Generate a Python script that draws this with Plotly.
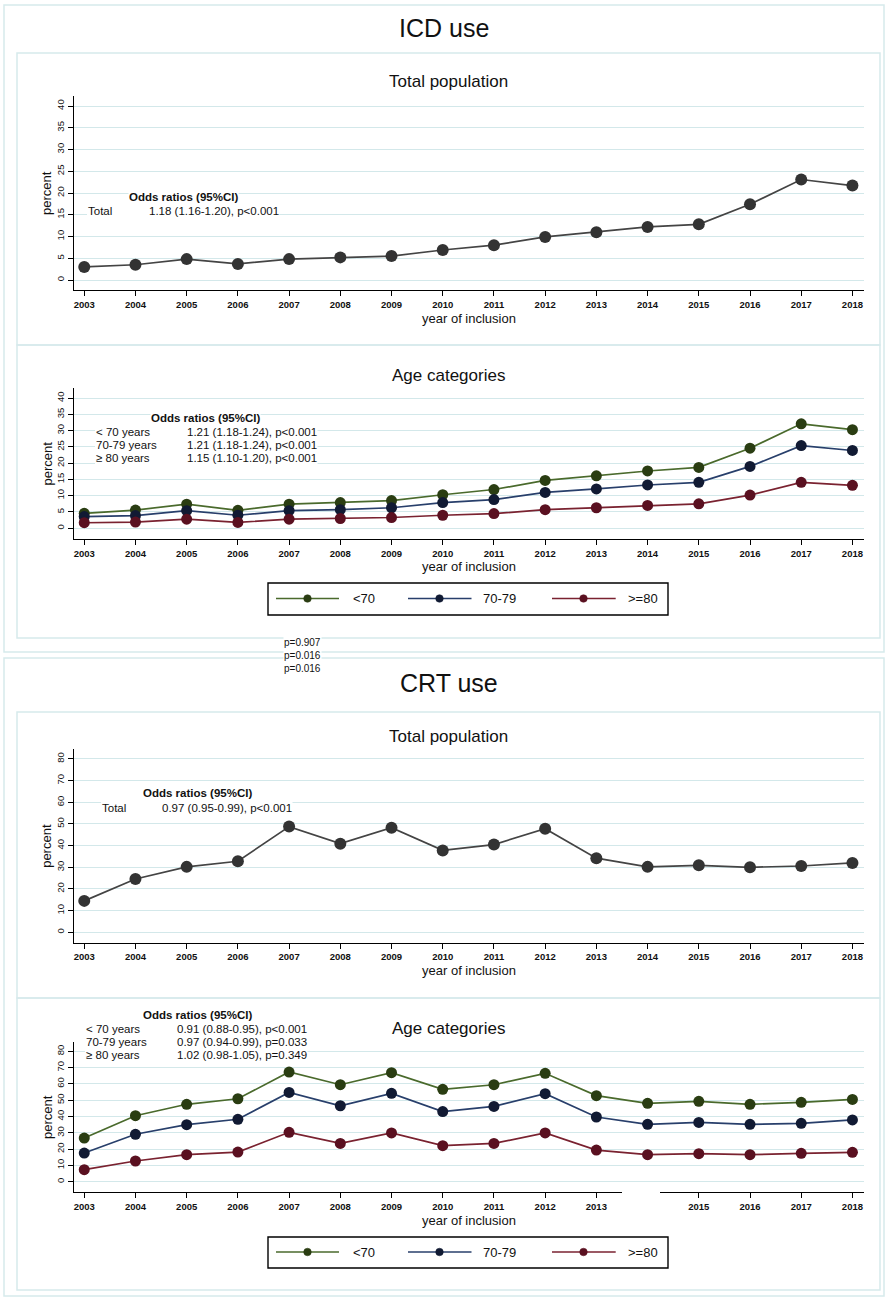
import plotly.graph_objects as go

# ---- data -------------------------------------------------------------
YEARS = list(range(2003, 2019))
YEAR_LABELS = [str(y) for y in YEARS]
AGE_GROUPS = ["<70", "70-79", ">=80"]

ICD_TOTAL = [3.0, 3.5, 4.8, 3.7, 4.8, 5.2, 5.5, 6.9, 8.0, 9.9, 11.0, 12.2, 12.8, 17.4, 23.1, 21.7]
ICD_LT70 = [4.6, 5.6, 7.4, 5.5, 7.4, 7.9, 8.5, 10.3, 11.9, 14.7, 16.1, 17.6, 18.7, 24.6, 32.1, 30.3]
ICD_70_79 = [3.6, 3.9, 5.4, 4.0, 5.4, 5.7, 6.3, 7.9, 8.8, 11.0, 12.1, 13.3, 14.1, 19.0, 25.4, 23.9]
ICD_GE80 = [1.7, 1.9, 2.8, 1.8, 2.8, 3.0, 3.3, 4.0, 4.5, 5.7, 6.3, 7.0, 7.5, 10.2, 14.1, 13.2]

CRT_TOTAL = [14.5, 24.6, 30.2, 32.8, 48.8, 40.9, 48.3, 37.8, 40.5, 47.8, 34.2, 30.2, 30.9, 30.0, 30.6, 32.0]
CRT_LT70 = [26.8, 40.5, 47.5, 50.9, 67.3, 59.5, 66.9, 56.7, 59.5, 66.5, 52.8, 48.1, 49.3, 47.5, 48.7, 50.5]
CRT_70_79 = [17.6, 29.1, 35.0, 38.3, 54.8, 46.6, 54.2, 43.0, 46.2, 54.0, 39.7, 35.2, 36.4, 35.2, 35.8, 37.9]
CRT_GE80 = [7.4, 12.7, 16.6, 18.2, 30.3, 23.5, 29.9, 22.1, 23.5, 29.9, 19.4, 16.6, 17.2, 16.6, 17.4, 18.0]

ICD_TOTAL_OR = [("Total", "1.18 (1.16-1.20), p<0.001")]
ICD_AGE_OR = [("< 70 years", "1.21 (1.18-1.24), p<0.001"),
              ("70-79 years", "1.21 (1.18-1.24), p<0.001"),
              ("≥ 80 years", "1.15 (1.10-1.20), p<0.001")]
CRT_TOTAL_OR = [("Total", "0.97 (0.95-0.99), p<0.001")]
CRT_AGE_OR = [("< 70 years", "0.91 (0.88-0.95), p<0.001"),
              ("70-79 years", "0.97 (0.94-0.99), p=0.033"),
              ("≥ 80 years", "1.02 (0.98-1.05), p=0.349")]
P_VALUES = ["p=0.907", "p=0.016", "p=0.016"]

# ---- styling ----------------------------------------------------------
W, H = 886, 1299
FONT = "Liberation Sans, Arial, Helvetica, sans-serif"
GRID = "#d3e8ea"
FRAME = "#d6eaec"
TOTAL_LINE, TOTAL_MARK = "#444444", "#333333"
AGE_LINE = ["#4a6a2c", "#283f6b", "#7a2230"]
AGE_MARK = ["#2a3d12", "#111a33", "#5a1020"]


def px(x):
    return x / W


def py(y):
    return 1 - y / H


fig = go.Figure()
annotations = []
shapes = []


def text(x, y, s, size, bold=False, anchor="left", bg=None, color="#111111"):
    annotations.append(dict(
        x=px(x), y=py(y), xref="paper", yref="paper", text=s, showarrow=False,
        xanchor=anchor, yanchor="middle", align="left",
        font=dict(family=FONT, size=size, color=color, weight="bold" if bold else "normal"),
        bgcolor=bg, borderpad=0))


def rect(x0, y0, x1, y1, line=None, fill=None, layer="below", width=1.5):
    shapes.append(dict(
        type="rect", xref="paper", yref="paper", x0=px(x0), x1=px(x1), y0=py(y0), y1=py(y1),
        line=dict(color=line or "rgba(0,0,0,0)", width=width if line else 0),
        fillcolor=fill or "rgba(0,0,0,0)", layer=layer))


# panels: (axis index, plot top, plot bottom, y range, dtick)
PANELS = [
    (1, 96.0, 290.0, [-2.3, 42.3], 5),
    (2, 388.0, 539.0, [-3.3, 43.1], 5),
    (3, 749.0, 942.7, [-4.8, 84.6], 10),
    (4, 1041.7, 1192.3, [-6.5, 85.9], 10),
]
X_LEFT, X_RIGHT = 74.0, 863.7
X_RANGE = [2002.8, 2018.22]

layout_axes = {}
for i, top, bottom, yr, dt in PANELS:
    sfx = "" if i == 1 else str(i)
    layout_axes["xaxis" + sfx] = dict(
        domain=[px(X_LEFT), px(X_RIGHT)], range=X_RANGE, anchor="y" + sfx,
        tickmode="array", tickvals=YEARS, ticktext=YEAR_LABELS,
        showline=True, linecolor="black", linewidth=1.3,
        ticks="outside", ticklen=5, tickwidth=1, tickcolor="black",
        tickfont=dict(family=FONT, size=9.5, color="#111111", weight="bold"),
        showgrid=False, zeroline=False, fixedrange=True)
    layout_axes["yaxis" + sfx] = dict(
        domain=[py(bottom), py(top)], range=yr, anchor="x" + sfx,
        tick0=0, dtick=dt, tickangle=-90,
        showline=True, linecolor="black", linewidth=1.3,
        ticks="outside", ticklen=5, tickwidth=1, tickcolor="black",
        tickfont=dict(family=FONT, size=9.5, color="#111111"),
        showgrid=True, gridcolor=GRID, gridwidth=1.3, zeroline=False, fixedrange=True)
    # axis titles
    text((X_LEFT + X_RIGHT) / 2, bottom + 28, "year of inclusion", 13, anchor="center")
    annotations.append(dict(
        x=px(47), y=py((top + bottom) / 2), xref="paper", yref="paper", text="percent",
        showarrow=False, textangle=-90, xanchor="center", yanchor="middle",
        font=dict(family=FONT, size=13, color="#111111")))

fig.update_layout(**layout_axes)


def add_total(series, axis):
    sfx = "" if axis == 1 else str(axis)
    fig.add_trace(go.Scatter(
        x=YEARS, y=series, mode="lines+markers", xaxis="x" + sfx, yaxis="y" + sfx,
        line=dict(color=TOTAL_LINE, width=1.7),
        marker=dict(color=TOTAL_MARK, size=12), showlegend=False, name="Total"))


def add_ages(series_list, axis):
    sfx = "" if axis == 1 else str(axis)
    for name, s, lc, mc in zip(AGE_GROUPS, series_list, AGE_LINE, AGE_MARK):
        fig.add_trace(go.Scatter(
            x=YEARS, y=s, mode="lines+markers", xaxis="x" + sfx, yaxis="y" + sfx,
            line=dict(color=lc, width=1.7),
            marker=dict(color=mc, size=11), showlegend=False, name=name))


add_total(ICD_TOTAL, 1)
add_ages([ICD_LT70, ICD_70_79, ICD_GE80], 2)
add_total(CRT_TOTAL, 3)
add_ages([CRT_LT70, CRT_70_79, CRT_GE80], 4)


def odds_block(header_xy, rows, label_x, value_x, row_ys, size=11.5):
    hx, hy = header_xy
    text(hx, hy, "Odds ratios (95%CI)", size, bold=True, bg="white")
    for (lab, val), ry in zip(rows, row_ys):
        rect(label_x, ry - 6.5, value_x + 4, ry + 6.5, fill="white", layer="above")
        text(label_x, ry, lab, size, bg="white")
        text(value_x, ry, val, size, bg="white")


odds_block((128, 197), ICD_TOTAL_OR, 87, 148, [211])
odds_block((150, 418), ICD_AGE_OR, 95, 186, [432, 445, 458])
odds_block((142, 793), CRT_TOTAL_OR, 101, 161, [808])
odds_block((142, 1015), CRT_AGE_OR, 85, 176, [1029, 1042, 1055])

# outer frames and panel boxes
rect(4, 5, 884, 652, line=FRAME)
rect(17, 53, 880, 345, line=FRAME)
rect(17, 345, 880, 638, line=FRAME)
rect(4, 658, 884, 1296, line=FRAME)
rect(17, 712, 880, 998, line=FRAME)
rect(17, 998, 880, 1290, line=FRAME)

# titles
text(444, 28, "ICD use", 25, anchor="center")
text(449, 683, "CRT use", 25, anchor="center")
text(448.5, 82, "Total population", 17, anchor="center")
text(448.5, 375, "Age categories", 17, anchor="center")
text(448.5, 736, "Total population", 17, anchor="center")
text(448.5, 1028, "Age categories", 17, anchor="center")

# gap in the lower x axis around 2014
rect(622, 1187, 660, 1215, fill="white", layer="above")

# p-value note between the two figures
annotations.append(dict(
    x=px(283), y=py(655), xref="paper", yref="paper", text="<br>".join(P_VALUES),
    showarrow=False, xanchor="left", yanchor="middle", align="left",
    font=dict(family=FONT, size=10, color="#111111"), bgcolor="white", borderpad=0))


def legend_box(y_line, box_top, box_bottom):
    rect(268, box_top, 668, box_bottom, line="black", fill="white", layer="above", width=1.4)
    items = [(276, 339, 307.5, 352), (408, 471.5, 439.5, 482.5), (552, 615.7, 583.5, 627)]
    for (x0, x1, xm, xt), name, lc, mc in zip(items, AGE_GROUPS, AGE_LINE, AGE_MARK):
        shapes.append(dict(type="line", xref="paper", yref="paper",
                           x0=px(x0), x1=px(x1), y0=py(y_line), y1=py(y_line),
                           line=dict(color=lc, width=1.7), layer="above"))
        r = 3.8
        shapes.append(dict(type="circle", xref="paper", yref="paper",
                           x0=px(xm - r), x1=px(xm + r), y0=py(y_line - r), y1=py(y_line + r),
                           line=dict(color=mc, width=0.5), fillcolor=mc, layer="above"))
        text(xt, y_line, name, 13)


legend_box(598.5, 583, 615)
legend_box(1252, 1237, 1268)

fig.update_layout(
    width=W, height=H, margin=dict(l=0, r=0, t=0, b=0),
    paper_bgcolor="white", plot_bgcolor="white", showlegend=False,
    annotations=annotations, shapes=shapes,
    font=dict(family=FONT, color="#111111"))

fig.write_html("out.html")
